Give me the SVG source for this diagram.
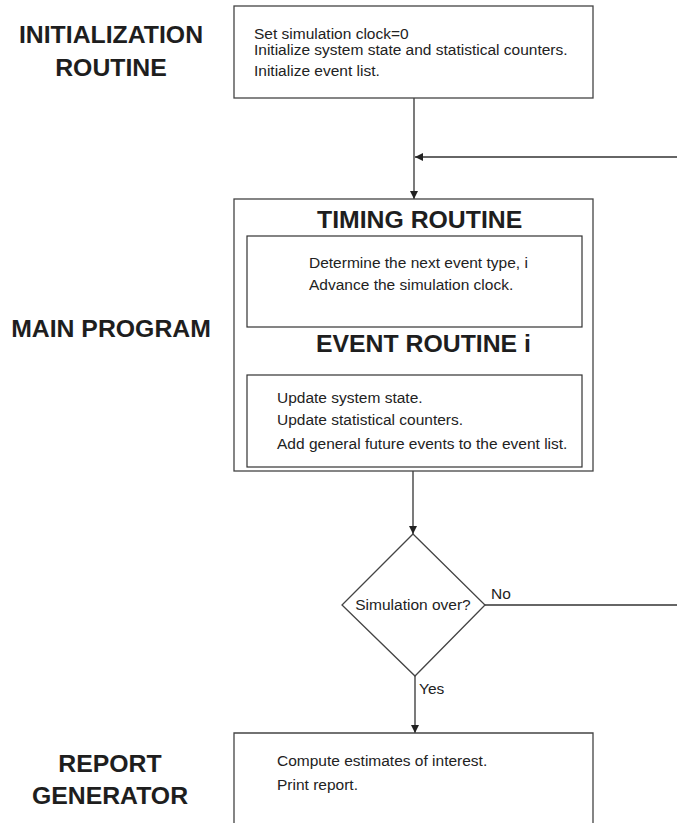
<svg xmlns="http://www.w3.org/2000/svg" width="677" height="823" viewBox="0 0 677 823">
  <style>
    .box { fill: #fff; stroke: #444; stroke-width: 1.3; }
    .inner { fill: #fff; stroke: #333; stroke-width: 1.2; }
    .body { font-family: "Liberation Sans", Arial, sans-serif; font-size: 15.5px; fill: #222; }
    .head { font-family: "Liberation Sans", Arial, sans-serif; font-size: 24.8px; font-weight: bold; fill: #1e1e1e; }
    .side { font-family: "Liberation Sans", Arial, sans-serif; font-size: 24.8px; font-weight: bold; fill: #1e1e1e; text-anchor: middle; }
    .line { fill: none; stroke: #333; stroke-width: 1.3; }
  </style>
  <defs>
    <marker id="arrow" viewBox="0 0 10 10" refX="10" refY="5" markerWidth="8" markerHeight="8" markerUnits="userSpaceOnUse" orient="auto">
      <path d="M0,0 L10,5 L0,10 z" fill="#222"/>
    </marker>
  </defs>

  <rect width="677" height="823" fill="#fff"/>

  <!-- side labels -->
  <g id="labels">
    <text class="side" x="111" y="43">INITIALIZATION</text>
    <text class="side" x="111" y="76">ROUTINE</text>
    <text class="side" x="111" y="337">MAIN PROGRAM</text>
    <text class="side" x="110" y="772">REPORT</text>
    <text class="side" x="110" y="804">GENERATOR</text>
  </g>

  <!-- connectors -->
  <g id="connectors">
    <line class="line" x1="414" y1="98" x2="414" y2="199" marker-end="url(#arrow)"/>
    <line class="line" x1="677" y1="157" x2="415" y2="157" marker-end="url(#arrow)"/>
    <line class="line" x1="413" y1="471" x2="413" y2="534" marker-end="url(#arrow)"/>
    <line class="line" x1="485" y1="605" x2="677" y2="605"/>
    <line class="line" x1="415" y1="676" x2="415" y2="733" marker-end="url(#arrow)"/>
    <text class="body" x="491" y="599">No</text>
    <text class="body" x="419" y="694">Yes</text>
  </g>

  <!-- initialization routine -->
  <g id="init">
    <rect class="box" x="234" y="6" width="359" height="92"/>
    <text class="body" x="254" y="39">Set simulation clock=0</text>
    <text class="body" x="254" y="55">Initialize system state and statistical counters.</text>
    <text class="body" x="254" y="76">Initialize event list.</text>
  </g>

  <!-- main program -->
  <g id="main">
    <rect class="box" x="234" y="199" width="359" height="272"/>
    <text class="head" x="317" y="228">TIMING ROUTINE</text>
    <rect class="inner" x="247" y="236" width="335" height="91"/>
    <text class="body" x="309" y="268">Determine the next event type, i</text>
    <text class="body" x="309" y="290">Advance the simulation clock.</text>
    <text class="head" x="316" y="352">EVENT ROUTINE i</text>
    <rect class="inner" x="247" y="375" width="335" height="92"/>
    <text class="body" x="277" y="403">Update system state.</text>
    <text class="body" x="277" y="425">Update statistical counters.</text>
    <text class="body" x="277" y="449">Add general future events to the event list.</text>
  </g>

  <!-- decision -->
  <g id="decision">
    <polygon class="box" points="413,534 485,605 415,676 342,605"/>
    <text class="body" x="413" y="610" text-anchor="middle">Simulation over?</text>
  </g>

  <!-- report generator -->
  <g id="report">
    <path class="box" d="M234,830 V733 H593 V830"/>
    <text class="body" x="277" y="766">Compute estimates of interest.</text>
    <text class="body" x="277" y="790">Print report.</text>
  </g>
</svg>
